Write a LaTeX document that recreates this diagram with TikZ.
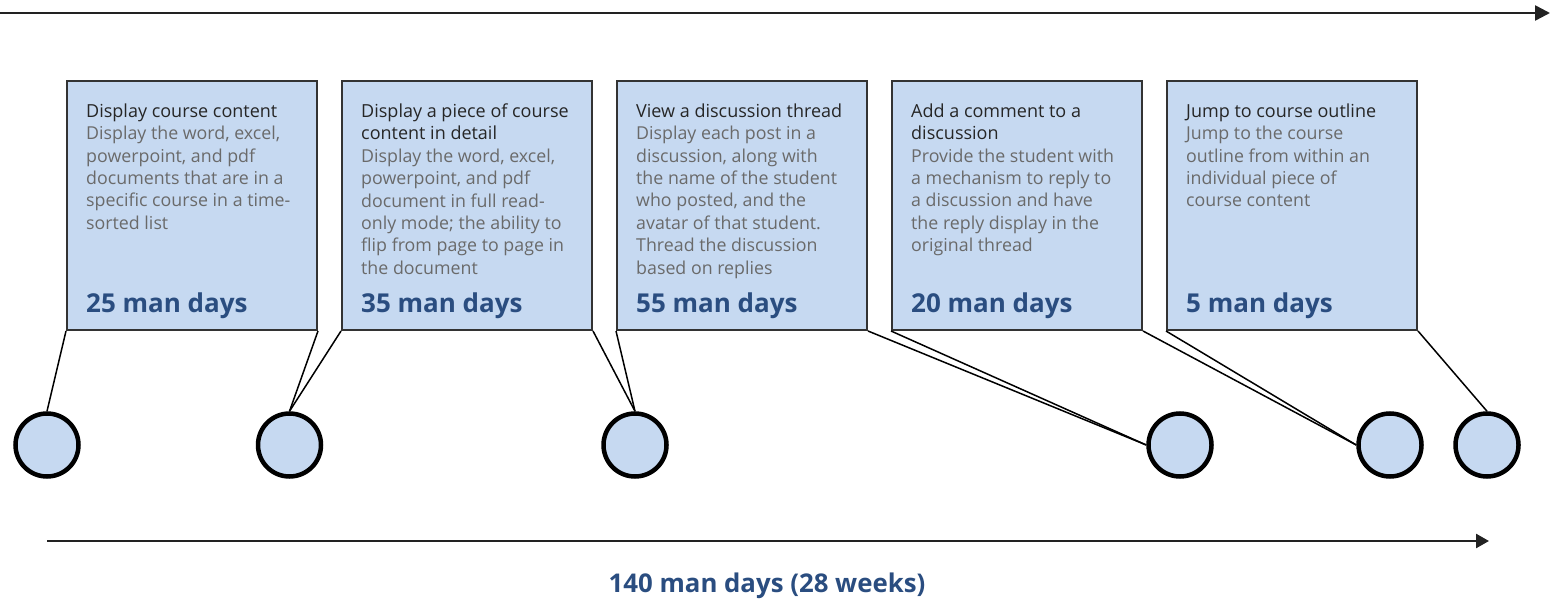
\documentclass[tikz,border=0pt]{standalone}
\usepackage{fontspec}
\setmainfont{Open Sans}
\usetikzlibrary{arrows.meta}
\definecolor{boxfill}{HTML}{C6D9F1}
\definecolor{boxline}{HTML}{333333}
\definecolor{titlecol}{HTML}{262626}
\definecolor{bodycol}{HTML}{6A6A6A}
\definecolor{daycol}{HTML}{2A4D80}
\definecolor{axiscol}{HTML}{222222}
\tikzset{
  taskbox/.style={draw=boxline, line width=2pt, fill=boxfill, rectangle, minimum width=250pt, minimum height=249pt, inner sep=0pt, anchor=north west},
  tasktext/.style={anchor=north west, inner sep=0pt, align=left, font=\fontsize{17.8}{22.4}\selectfont, text=bodycol},
  days/.style={anchor=base west, inner sep=0pt, text=daycol, font=\fontsize{26}{30}\selectfont\bfseries},
  milestone/.style={circle, draw=black, line width=4.5pt, fill=boxfill, minimum size=63pt, inner sep=0pt},
  link/.style={draw=black, line width=1.5pt},
  axis/.style={draw=axiscol, line width=2.5pt},
}
\newcommand{\ttl}[1]{{\fontsize{18}{22.4}\selectfont\color{titlecol}#1}}
\begin{document}
\begin{tikzpicture}[x=1pt,y=-1pt]
\useasboundingbox (0,0) rectangle (1557,601);
% top arrow
\coordinate (ta) at (0,13);
\coordinate (tb) at (1550,13);
\draw[axis, -{Triangle[length=15pt,width=15pt]}] (ta) -- (tb);
% boxes
\node[taskbox] (b1) at (66,80) {};
\node[taskbox] (b2) at (341,80) {};
\node[taskbox] (b3) at (616,80) {};
\node[taskbox] (b4) at (891,80) {};
\node[taskbox] (b5) at (1166,80) {};
% texts
\node[tasktext] (t1) at (86,103.5) {\ttl{Display course content}\\Display the word, excel,\\powerpoint, and pdf\\documents that are in a\\specific course in a time-\\sorted list};
\node[tasktext] (t2) at (361,103.5) {\ttl{Display a piece of course}\\\ttl{content in detail}\\Display the word, excel,\\powerpoint, and pdf\\document in full read-\\only mode; the ability to\\flip from page to page in\\the document};
\node[tasktext] (t3) at (636,103.5) {\ttl{View a discussion thread}\\Display each post in a\\discussion, along with\\the name of the student\\who posted, and the\\avatar of that student.\\Thread the discussion\\based on replies};
\node[tasktext] (t4) at (911,103.5) {\ttl{Add a comment to a}\\\ttl{discussion}\\Provide the student with\\a mechanism to reply to\\a discussion and have\\the reply display in the\\original thread};
\node[tasktext] (t5) at (1186,103.5) {\ttl{Jump to course outline}\\Jump to the course\\outline from within an\\individual piece of\\course content};
\node[days] (d1) at (86,312.5) {25 man days};
\node[days] (d2) at (361,312.5) {35 man days};
\node[days] (d3) at (636,312.5) {55 man days};
\node[days] (d4) at (911,312.5) {20 man days};
\node[days] (d5) at (1186,312.5) {5 man days};
% milestones
\node[milestone] (c1) at (47,445) {};
\node[milestone] (c2) at (289.5,445) {};
\node[milestone] (c3) at (635,445) {};
\node[milestone] (c4) at (1180,445) {};
\node[milestone] (c5) at (1390,445) {};
\node[milestone] (c6) at (1487,445) {};
% links
\draw[link] (b1.south west) -- (c1.north);
\draw[link] (b1.south east) -- (c2.north);
\draw[link] (b2.south west) -- (c2.north);
\draw[link] (b2.south east) -- (c3.north);
\draw[link] (b3.south west) -- (c3.north);
\draw[link] (b3.south east) -- (c4.west);
\draw[link] (b4.south west) -- (c4.west);
\draw[link] (b4.south east) -- (c5.west);
\draw[link] (b5.south west) -- (c5.west);
\draw[link] (b5.south east) -- (c6.north);
% bottom arrow
\coordinate (ba) at (47,541);
\coordinate (bb) at (1489,541);
\draw[axis, -{Triangle[length=13pt,width=14pt]}] (ba) -- (bb);
\node[text=daycol, font=\fontsize{25.8}{30}\selectfont\bfseries, inner sep=0pt] (total) at (767,586) {140 man days (28 weeks)};
\end{tikzpicture}
\end{document}
